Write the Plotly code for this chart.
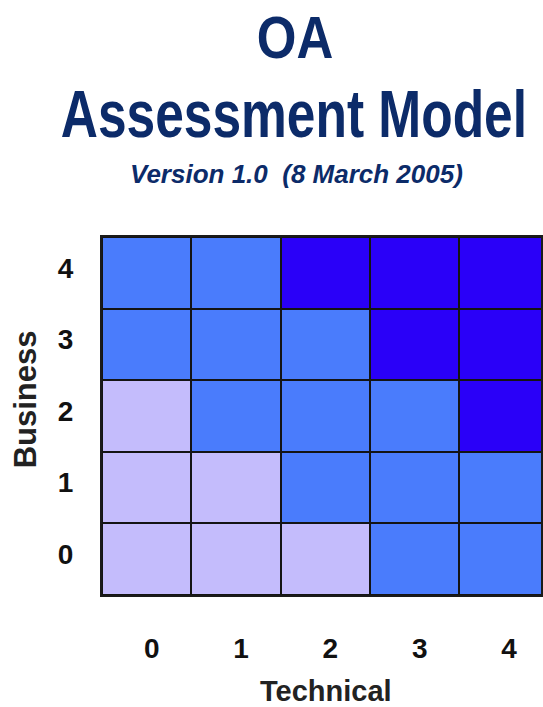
import plotly.graph_objects as go

technical = ["0", "1", "2", "3", "4"]
business = ["0", "1", "2", "3", "4"]
# maturity level per cell (rows = business 0..4, cols = technical 0..4)
levels = [
    [0, 0, 0, 1, 1],
    [0, 0, 1, 1, 1],
    [0, 1, 1, 1, 2],
    [1, 1, 1, 2, 2],
    [1, 1, 2, 2, 2],
]
level_colors = ["#c4bcfc", "#4a7cfc", "#2a00f8"]

colorscale = [
    [0.0, level_colors[0]], [0.3333, level_colors[0]],
    [0.3333, level_colors[1]], [0.6667, level_colors[1]],
    [0.6667, level_colors[2]], [1.0, level_colors[2]],
]

fig = go.Figure(go.Heatmap(
    z=levels,
    x=list(range(len(technical))),
    y=list(range(len(business))),
    zmin=0, zmax=2,
    colorscale=colorscale,
    showscale=False,
    xgap=2, ygap=2,
    hoverinfo="skip",
))

navy = "#0c2b69"
W, H = 543, 707
l, r, t, b = 102, 0, 237, 112

fig.update_layout(
    width=W, height=H,
    margin=dict(l=l, r=r, t=t, b=b, pad=0),
    paper_bgcolor="white",
    plot_bgcolor="#141414",
    showlegend=False,
    xaxis=dict(
        range=[-0.5, 4.414],
        tickmode="array", tickvals=list(range(5)), ticktext=technical,
        showgrid=False, zeroline=False,
        showline=True, linecolor="#1a1a1a", linewidth=2, mirror=True,
        tickfont=dict(family="Liberation Sans, Arial", size=28, color="#111111", weight="bold"),
        ticklabelstandoff=27, ticklabelshift=5,
        fixedrange=True,
    ),
    yaxis=dict(
        range=[-0.5, 4.5],
        tickmode="array", tickvals=list(range(5)), ticktext=business,
        showgrid=False, zeroline=False,
        showline=True, linecolor="#1a1a1a", linewidth=2, mirror=True,
        tickfont=dict(family="Liberation Sans, Arial", size=28, color="#111111", weight="bold"),
        ticklabelstandoff=21, ticklabelshift=-5,
        fixedrange=True,
    ),
    annotations=[
        dict(text="OA", x=296, y=38, showarrow=False,
             font=dict(family="Liberation Sans, Arial", size=60, color=navy, weight="bold")),
        dict(text="Assessment Model", x=295, y=114, showarrow=False,
             font=dict(family="Liberation Sans, Arial", size=66, color=navy, weight="bold")),
        dict(text="Version 1.0  (8 March 2005)", x=297, y=174, showarrow=False,
             font=dict(family="Liberation Sans, Arial", size=26, color=navy, weight="bold", style="italic")),
        dict(text="Technical", x=327, y=691, showarrow=False,
             font=dict(family="Liberation Sans, Arial", size=29, color="#222222", weight="bold")),
        dict(text="Business", x=25, y=399, showarrow=False, textangle=-90,
             font=dict(family="Liberation Sans, Arial", size=31, color="#222222", weight="bold")),
    ],
)

# convert pixel positions for annotations to paper coordinates
pw, ph = W - l - r, H - t - b
for a in fig.layout.annotations:
    px, py = a.x, a.y
    a.xref = "paper"
    a.yref = "paper"
    a.x = (px - l) / pw
    a.y = (H - b - py) / ph
    a.xanchor = "center"
    a.yanchor = "middle"

post = """
document.body.style.margin='0';
document.body.style.overflow='hidden';
var gd=document.getElementById('{plot_id}');
var scales={'OA':0.85,'Assessment Model':0.78};
gd.querySelectorAll('g.annotation-text-g text').forEach(function(el){
  var s=el.textContent;
  if(scales[s]){
    var bb=el.getBBox(); var cx=bb.x+bb.width/2;
    var old=el.getAttribute('transform')||'';
    el.setAttribute('transform','translate('+cx+',0) scale('+scales[s]+',1) translate('+(-cx)+',0) '+old);
  }
});
"""

fig.write_html("out.html", post_script=post, config={"displayModeBar": False})
